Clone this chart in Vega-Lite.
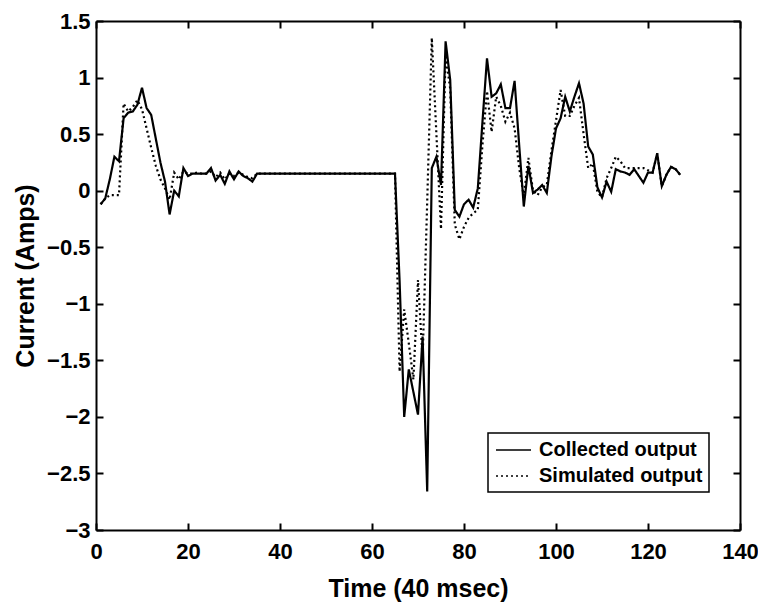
{
  "$schema": "https://vega.github.io/schema/vega-lite/v6.json",
  "width": 644,
  "height": 509,
  "autosize": {"type": "none"},
  "padding": {"left": 96, "top": 21, "right": 18, "bottom": 72},
  "background": "white",
  "data": {
    "values": [
      {"t": 1, "Collected output": -0.12, "Simulated output": -0.12},
      {"t": 2, "Collected output": -0.07, "Simulated output": -0.07},
      {"t": 3, "Collected output": 0.10, "Simulated output": -0.04},
      {"t": 4, "Collected output": 0.30, "Simulated output": -0.04},
      {"t": 5, "Collected output": 0.26, "Simulated output": -0.04},
      {"t": 6, "Collected output": 0.64, "Simulated output": 0.77},
      {"t": 7, "Collected output": 0.69, "Simulated output": 0.70},
      {"t": 8, "Collected output": 0.70, "Simulated output": 0.74},
      {"t": 9, "Collected output": 0.76, "Simulated output": 0.80},
      {"t": 10, "Collected output": 0.91, "Simulated output": 0.72},
      {"t": 11, "Collected output": 0.73, "Simulated output": 0.55},
      {"t": 12, "Collected output": 0.67, "Simulated output": 0.38},
      {"t": 13, "Collected output": 0.46, "Simulated output": 0.22},
      {"t": 14, "Collected output": 0.25, "Simulated output": 0.10},
      {"t": 15, "Collected output": 0.08, "Simulated output": 0.02},
      {"t": 16, "Collected output": -0.21, "Simulated output": -0.08},
      {"t": 17, "Collected output": 0.00, "Simulated output": 0.16},
      {"t": 18, "Collected output": -0.05, "Simulated output": 0.10},
      {"t": 19, "Collected output": 0.20, "Simulated output": 0.17},
      {"t": 20, "Collected output": 0.13, "Simulated output": 0.15},
      {"t": 21, "Collected output": 0.15, "Simulated output": 0.15},
      {"t": 22, "Collected output": 0.15, "Simulated output": 0.16},
      {"t": 23, "Collected output": 0.15, "Simulated output": 0.15},
      {"t": 24, "Collected output": 0.15, "Simulated output": 0.15},
      {"t": 25, "Collected output": 0.20, "Simulated output": 0.17},
      {"t": 26, "Collected output": 0.09, "Simulated output": 0.12},
      {"t": 27, "Collected output": 0.14, "Simulated output": 0.16},
      {"t": 28, "Collected output": 0.06, "Simulated output": 0.10},
      {"t": 29, "Collected output": 0.17, "Simulated output": 0.15},
      {"t": 30, "Collected output": 0.10, "Simulated output": 0.13},
      {"t": 31, "Collected output": 0.17, "Simulated output": 0.16},
      {"t": 32, "Collected output": 0.13, "Simulated output": 0.14},
      {"t": 33, "Collected output": 0.11, "Simulated output": 0.12},
      {"t": 34, "Collected output": 0.08, "Simulated output": 0.11},
      {"t": 35, "Collected output": 0.15, "Simulated output": 0.15},
      {"t": 36, "Collected output": 0.15, "Simulated output": 0.15},
      {"t": 37, "Collected output": 0.15, "Simulated output": 0.15},
      {"t": 38, "Collected output": 0.15, "Simulated output": 0.15},
      {"t": 39, "Collected output": 0.15, "Simulated output": 0.15},
      {"t": 40, "Collected output": 0.15, "Simulated output": 0.15},
      {"t": 41, "Collected output": 0.15, "Simulated output": 0.15},
      {"t": 42, "Collected output": 0.15, "Simulated output": 0.15},
      {"t": 43, "Collected output": 0.15, "Simulated output": 0.15},
      {"t": 44, "Collected output": 0.15, "Simulated output": 0.15},
      {"t": 45, "Collected output": 0.15, "Simulated output": 0.15},
      {"t": 46, "Collected output": 0.15, "Simulated output": 0.15},
      {"t": 47, "Collected output": 0.15, "Simulated output": 0.15},
      {"t": 48, "Collected output": 0.15, "Simulated output": 0.15},
      {"t": 49, "Collected output": 0.15, "Simulated output": 0.15},
      {"t": 50, "Collected output": 0.15, "Simulated output": 0.15},
      {"t": 51, "Collected output": 0.15, "Simulated output": 0.15},
      {"t": 52, "Collected output": 0.15, "Simulated output": 0.15},
      {"t": 53, "Collected output": 0.15, "Simulated output": 0.15},
      {"t": 54, "Collected output": 0.15, "Simulated output": 0.15},
      {"t": 55, "Collected output": 0.15, "Simulated output": 0.15},
      {"t": 56, "Collected output": 0.15, "Simulated output": 0.15},
      {"t": 57, "Collected output": 0.15, "Simulated output": 0.15},
      {"t": 58, "Collected output": 0.15, "Simulated output": 0.15},
      {"t": 59, "Collected output": 0.15, "Simulated output": 0.15},
      {"t": 60, "Collected output": 0.15, "Simulated output": 0.15},
      {"t": 61, "Collected output": 0.15, "Simulated output": 0.15},
      {"t": 62, "Collected output": 0.15, "Simulated output": 0.15},
      {"t": 63, "Collected output": 0.15, "Simulated output": 0.15},
      {"t": 64, "Collected output": 0.15, "Simulated output": 0.15},
      {"t": 65, "Collected output": 0.15, "Simulated output": 0.15},
      {"t": 66, "Collected output": -0.80, "Simulated output": -1.60},
      {"t": 67, "Collected output": -2.00, "Simulated output": -1.05},
      {"t": 68, "Collected output": -1.58, "Simulated output": -1.35},
      {"t": 69, "Collected output": -1.78, "Simulated output": -1.67},
      {"t": 70, "Collected output": -1.98, "Simulated output": -0.79},
      {"t": 71, "Collected output": -1.29, "Simulated output": -1.49},
      {"t": 72, "Collected output": -2.66, "Simulated output": -0.10},
      {"t": 73, "Collected output": 0.20, "Simulated output": 1.35},
      {"t": 74, "Collected output": 0.30, "Simulated output": 0.50},
      {"t": 75, "Collected output": 0.05, "Simulated output": -0.34},
      {"t": 76, "Collected output": 1.32, "Simulated output": 1.20},
      {"t": 77, "Collected output": 0.98, "Simulated output": 0.90},
      {"t": 78, "Collected output": -0.17, "Simulated output": -0.30},
      {"t": 79, "Collected output": -0.23, "Simulated output": -0.43},
      {"t": 80, "Collected output": -0.12, "Simulated output": -0.32},
      {"t": 81, "Collected output": -0.08, "Simulated output": -0.24},
      {"t": 82, "Collected output": -0.15, "Simulated output": -0.20},
      {"t": 83, "Collected output": 0.02, "Simulated output": -0.17},
      {"t": 84, "Collected output": 0.60, "Simulated output": 0.40},
      {"t": 85, "Collected output": 1.17, "Simulated output": 0.88},
      {"t": 86, "Collected output": 0.83, "Simulated output": 0.52},
      {"t": 87, "Collected output": 0.86, "Simulated output": 0.83},
      {"t": 88, "Collected output": 0.94, "Simulated output": 0.75},
      {"t": 89, "Collected output": 0.73, "Simulated output": 0.61},
      {"t": 90, "Collected output": 0.73, "Simulated output": 0.69},
      {"t": 91, "Collected output": 0.97, "Simulated output": 0.55},
      {"t": 92, "Collected output": 0.40, "Simulated output": 0.20},
      {"t": 93, "Collected output": -0.14, "Simulated output": -0.05},
      {"t": 94, "Collected output": 0.22, "Simulated output": 0.29},
      {"t": 95, "Collected output": -0.02, "Simulated output": 0.00},
      {"t": 96, "Collected output": 0.01, "Simulated output": -0.04},
      {"t": 97, "Collected output": 0.05, "Simulated output": 0.03},
      {"t": 98, "Collected output": -0.02, "Simulated output": 0.05},
      {"t": 99, "Collected output": 0.30, "Simulated output": 0.35},
      {"t": 100, "Collected output": 0.55, "Simulated output": 0.62},
      {"t": 101, "Collected output": 0.64, "Simulated output": 0.89},
      {"t": 102, "Collected output": 0.83, "Simulated output": 0.66},
      {"t": 103, "Collected output": 0.70, "Simulated output": 0.66},
      {"t": 104, "Collected output": 0.83, "Simulated output": 0.75},
      {"t": 105, "Collected output": 0.95, "Simulated output": 0.82},
      {"t": 106, "Collected output": 0.77, "Simulated output": 0.50},
      {"t": 107, "Collected output": 0.39, "Simulated output": 0.20},
      {"t": 108, "Collected output": 0.32, "Simulated output": 0.24},
      {"t": 109, "Collected output": 0.03, "Simulated output": -0.01},
      {"t": 110, "Collected output": -0.06, "Simulated output": -0.06},
      {"t": 111, "Collected output": 0.08, "Simulated output": 0.11},
      {"t": 112, "Collected output": -0.01, "Simulated output": 0.20},
      {"t": 113, "Collected output": 0.19, "Simulated output": 0.30},
      {"t": 114, "Collected output": 0.17, "Simulated output": 0.26},
      {"t": 115, "Collected output": 0.16, "Simulated output": 0.20},
      {"t": 116, "Collected output": 0.14, "Simulated output": 0.20},
      {"t": 117, "Collected output": 0.19, "Simulated output": 0.20},
      {"t": 118, "Collected output": 0.13, "Simulated output": 0.20},
      {"t": 119, "Collected output": 0.07, "Simulated output": 0.20},
      {"t": 120, "Collected output": 0.16, "Simulated output": 0.18},
      {"t": 121, "Collected output": 0.16, "Simulated output": 0.16},
      {"t": 122, "Collected output": 0.33, "Simulated output": 0.33},
      {"t": 123, "Collected output": 0.04, "Simulated output": 0.04},
      {"t": 124, "Collected output": 0.14, "Simulated output": 0.14},
      {"t": 125, "Collected output": 0.21, "Simulated output": 0.21},
      {"t": 126, "Collected output": 0.19, "Simulated output": 0.19},
      {"t": 127, "Collected output": 0.14, "Simulated output": 0.14}
    ]
  },
  "transform": [
    {"fold": ["Collected output", "Simulated output"], "as": ["series", "v"]}
  ],
  "config": {
    "view": {"stroke": null},
    "font": "Liberation Sans",
    "axis": {
      "domainColor": "black",
      "domainWidth": 2,
      "tickColor": "black",
      "tickWidth": 2,
      "tickSize": -7,
      "labelFont": "Liberation Sans",
      "labelFontSize": 22,
      "labelFontWeight": "bold",
      "labelColor": "black",
      "titleFont": "Liberation Sans",
      "titleFontSize": 25,
      "titleFontWeight": "bold",
      "titleColor": "black",
      "grid": false,
      "labelFlush": false,
      "labelOverlap": false
    },
    "legend": {
      "strokeColor": "black",
      "strokeWidth": 1.5,
      "fillColor": "white",
      "padding": 6,
      "symbolType": "M-0.9,0H2.6",
      "symbolSize": 400,
      "symbolStrokeWidth": 1.5,
      "symbolStrokeColor": "black",
      "labelFont": "Liberation Sans",
      "labelFontSize": 20,
      "labelFontWeight": "bold",
      "labelColor": "black",
      "labelOffset": 23,
      "labelLimit": 400,
      "rowPadding": 5
    }
  },
  "layer": [
    {
      "mark": {"type": "line", "strokeWidth": 2.2, "color": "black"},
      "encoding": {
        "x": {
          "field": "t", "type": "quantitative",
          "scale": {"domain": [0, 140], "nice": false},
          "axis": {"orient": "bottom", "values": [0, 20, 40, 60, 80, 100, 120, 140], "format": "d", "labelPadding": 18, "title": "Time (40 msec)", "titlePadding": 14}
        },
        "y": {
          "field": "v", "type": "quantitative",
          "scale": {"domain": [-3, 1.5], "nice": false},
          "axis": {"orient": "left", "values": [-3, -2.5, -2, -1.5, -1, -0.5, 0, 0.5, 1, 1.5], "format": ".1~f", "labelPadding": 13, "title": "Current (Amps)", "titlePadding": 8}
        },
        "strokeDash": {
          "field": "series", "type": "nominal",
          "scale": {"domain": ["Collected output", "Simulated output"], "range": [[1, 0], [2, 3]]},
          "legend": {"title": null, "orient": "none", "legendX": 392, "legendY": 412, "labelExpr": "datum.label + '\u2002'"}
        }
      }
    },
    {
      "mark": {"type": "point", "opacity": 0},
      "encoding": {
        "x": {
          "field": "t", "type": "quantitative",
          "axis": {"orient": "top", "values": [0, 20, 40, 60, 80, 100, 120, 140], "labels": false, "title": null}
        },
        "y": {
          "field": "v", "type": "quantitative",
          "axis": {"orient": "right", "values": [-3, -2.5, -2, -1.5, -1, -0.5, 0, 0.5, 1, 1.5], "labels": false, "title": null}
        }
      }
    }
  ],
  "resolve": {"axis": {"x": "independent", "y": "independent"}}
}
